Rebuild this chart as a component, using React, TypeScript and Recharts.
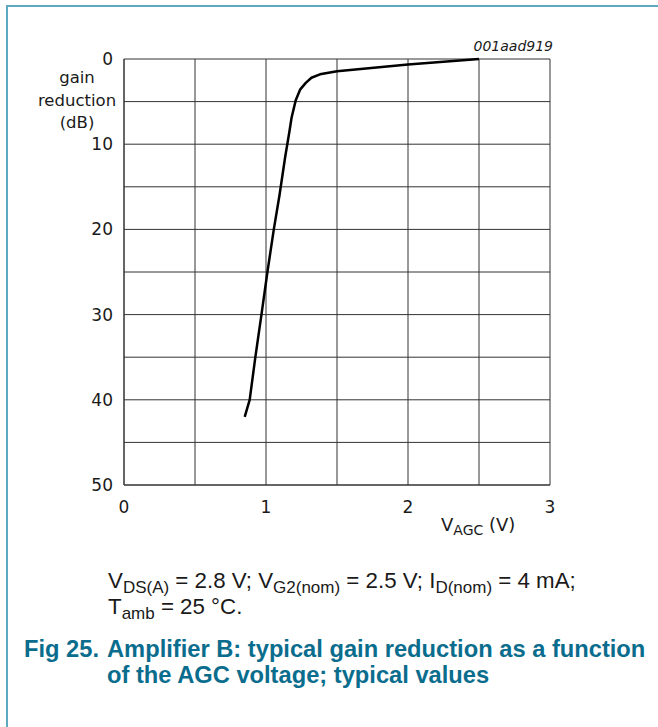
import React from 'react';
import {
  LineChart,
  Line,
  XAxis,
  YAxis,
  CartesianGrid,
  Label,
} from 'recharts';

// V_AGC (V) and gain reduction (dB)
const vAgc = [0.85, 0.885, 0.925, 0.968, 1.01, 1.055, 1.095, 1.135, 1.165, 1.18, 1.21, 1.24, 1.28, 1.32, 1.38, 1.5, 2.0, 2.5];
const gainReduction = [42, 40, 35, 30, 25, 20, 16, 11.5, 8.5, 6.9, 4.8, 3.6, 2.8, 2.2, 1.8, 1.45, 0.65, 0];

const xTicks = [0, 0.5, 1, 1.5, 2, 2.5, 3];
const yTicks = [0, 5, 10, 15, 20, 25, 30, 35, 40, 45, 50];

const data = vAgc.map((v, i) => ({ v, g: gainReduction[i] }));

const chartFont = 'DejaVu Sans, sans-serif';
const textFont = 'Liberation Sans, Arial, sans-serif';
const ink = '#1a1a1a';
const teal = '#0b6d8d';
const frame = '#5fa8c2';

const YTitle = ({ viewBox }: any) => {
  const cx = viewBox.x + viewBox.width - 47;
  return (
    <text textAnchor="middle" fontFamily={chartFont} fontSize={16.5} fill={ink}>
      <tspan x={cx} y={viewBox.y + 24}>gain</tspan>
      <tspan x={cx} y={viewBox.y + 47}>reduction</tspan>
      <tspan x={cx} y={viewBox.y + 69}>(dB)</tspan>
    </text>
  );
};

const XTitle = ({ viewBox }: any) => (
  <text
    x={viewBox.x + 317}
    y={viewBox.y + 46}
    fontFamily={chartFont}
    fontSize={18}
    fill={ink}
  >
    <tspan>V</tspan>
    <tspan fontSize={14} dy={4}>AGC</tspan>
    <tspan dy={-4}> (V)</tspan>
  </text>
);

const sub = { fontSize: 17, verticalAlign: '-5px', lineHeight: 0 };

export default function App() {
  return (
    <div
      style={{
        position: 'fixed',
        top: 0,
        left: 0,
        width: 658,
        height: 727,
        background: '#fff',
      }}
    >
      <div style={{ position: 'absolute', top: 0, left: 0 }}>
        <LineChart
          width={658}
          height={560}
          data={data}
          margin={{ top: 59, right: 108, left: 84, bottom: 45 }}
        >
          <CartesianGrid stroke="#333" strokeWidth={1} />
          <XAxis
            dataKey="v"
            type="number"
            domain={[0, 3]}
            ticks={xTicks}
            tickFormatter={(t: number) => (Number.isInteger(t) ? String(t) : '')}
            tickLine={false}
            tickSize={0}
            tickMargin={16}
            height={30}
            axisLine={{ stroke: '#333' }}
            tick={{ fill: ink, fontSize: 17, fontFamily: chartFont }}
            interval={0}
          >
            <Label content={XTitle} />
          </XAxis>
          <YAxis
            type="number"
            domain={[0, 50]}
            reversed
            ticks={yTicks}
            tickFormatter={(t: number) => (t % 10 === 0 ? String(t) : '')}
            tickLine={false}
            tickSize={0}
            tickMargin={11}
            width={40}
            axisLine={{ stroke: '#333' }}
            tick={{ fill: ink, fontSize: 17, fontFamily: chartFont }}
            interval={0}
          >
            <Label content={YTitle} />
          </YAxis>
          <Line
            dataKey="g"
            type="linear"
            stroke="#000"
            strokeWidth={2.5}
            strokeLinejoin="round"
            dot={false}
            isAnimationActive={false}
          />
        </LineChart>
      </div>
      <div
        style={{
          position: 'absolute',
          left: 470,
          top: 38,
          width: 83,
          textAlign: 'right',
          fontFamily: chartFont,
          fontStyle: 'italic',
          fontSize: 14,
          color: ink,
          lineHeight: '16px',
        }}
      >
        001aad919
      </div>
      <div
        style={{
          position: 'absolute',
          left: 108,
          top: 568,
          fontFamily: textFont,
          fontSize: 22.3,
          lineHeight: '26px',
          color: ink,
          whiteSpace: 'nowrap',
        }}
      >
        V<span style={sub}>DS(A)</span> = 2.8 V; V<span style={sub}>G2(nom)</span> = 2.5 V; I
        <span style={sub}>D(nom)</span> = 4 mA;
        <br />
        T<span style={sub}>amb</span> = 25 °C.
      </div>
      <div
        style={{
          position: 'absolute',
          left: 24,
          top: 636,
          fontFamily: textFont,
          fontWeight: 'bold',
          fontSize: 23.7,
          lineHeight: '26px',
          color: teal,
          whiteSpace: 'nowrap',
        }}
      >
        Fig 25.
      </div>
      <div
        style={{
          position: 'absolute',
          left: 107,
          top: 636,
          fontFamily: textFont,
          fontWeight: 'bold',
          fontSize: 23.7,
          lineHeight: '26px',
          color: teal,
          whiteSpace: 'nowrap',
        }}
      >
        Amplifier B: typical gain reduction as a function
        <br />
        of the AGC voltage; typical values
      </div>
      <div style={{ position: 'absolute', top: 5, left: 6, width: 652, height: 2, background: frame, zIndex: 20 }} />
      <div style={{ position: 'absolute', top: 5, left: 6, width: 2, height: 722, background: frame, zIndex: 20 }} />
    </div>
  );
}
